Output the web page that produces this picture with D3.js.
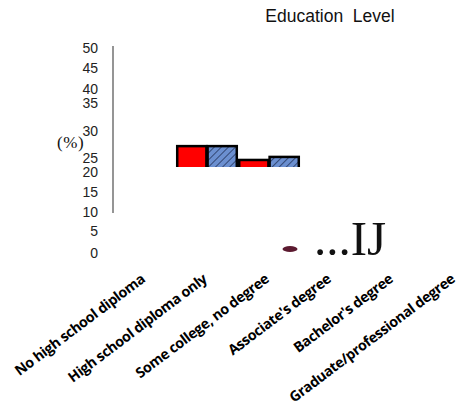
<!DOCTYPE html>
<html>
<head>
<meta charset="utf-8">
<script src="https://cdn.jsdelivr.net/npm/d3@7"></script>
<style>
  html, body { margin: 0; padding: 0; background: #fff; }
  svg { display: block; }
</style>
</head>
<body>
<svg id="chart" width="458" height="415"></svg>
<script>
// ---- data ----
const categories = [
  "No high school diploma",
  "High school diploma only",
  "Some college, no degree",
  "Associate's degree",
  "Bachelor's degree",
  "Graduate/professional degree"
];
const seriesRed  = [null, 27.2, 24.3, null, null, null];
const seriesBlue = [null, 27.2, 25.2, null, null, null];
const yTicks = [0, 5, 10, 15, 20, 25, 30, 35, 40, 45, 50];
const visibleFloor = 21.8;
const title = "Education\u00a0\u00a0Level";
const yLabel = "(%)";

// ---- drawing ----
const svg = d3.select("#chart");

const x = d3.scaleBand().domain(categories).range([114, 486]).padding(0);
// irregular (piecewise) value axis, as in the original
const y = d3.scaleLinear()
  .domain(yTicks)
  .range([253, 231, 212, 192, 172, 158, 131, 103, 89, 68, 48]);

const sub = d3.scaleBand().domain(["red", "blue"]).range([0, x.bandwidth()]).padding(0.04);

// hatch pattern
const defs = svg.append("defs");
const pat = defs.append("pattern")
  .attr("id", "hatch").attr("patternUnits", "userSpaceOnUse")
  .attr("width", 5).attr("height", 5)
  .attr("patternTransform", "rotate(45)");
pat.append("rect").attr("width", 5).attr("height", 5).attr("fill", "#6b8fd0");
pat.append("line").attr("x1", 0).attr("y1", 0).attr("x2", 0).attr("y2", 5)
  .attr("stroke", "#24365e").attr("stroke-width", 1.6);

// title
svg.append("text")
  .attr("x", 330).attr("y", 22)
  .attr("text-anchor", "middle")
  .attr("font-family", "Liberation Sans, Arial, sans-serif")
  .attr("font-size", 17.5)
  .attr("fill", "#111")
  .text(title);

// y tick labels
svg.append("g").selectAll("text").data(yTicks).join("text")
  .attr("x", 98).attr("y", d => y(d))
  .attr("dy", "0.35em")
  .attr("text-anchor", "end")
  .attr("font-family", "Liberation Sans, Arial, sans-serif")
  .attr("font-size", 14)
  .attr("fill", "#222")
  .text(d => d);

// axis line
svg.append("line")
  .attr("x1", 113).attr("x2", 113)
  .attr("y1", y(50) - 2).attr("y2", y(10) + 1)
  .attr("stroke", "#8a8a8a").attr("stroke-width", 1.8);

// y label
svg.append("text")
  .attr("x", 57).attr("y", 148)
  .attr("font-family", "Liberation Serif, Times New Roman, serif")
  .attr("font-size", 17)
  .attr("letter-spacing", 0.6)
  .attr("fill", "#111")
  .text(yLabel);

// bars
const clip = defs.append("clipPath").attr("id", "floorclip");
clip.append("rect").attr("x", 0).attr("y", 0).attr("width", 458).attr("height", y(visibleFloor));

const barData = [];
categories.forEach((c, i) => {
  if (seriesRed[i] != null) barData.push({cat: c, key: "red", v: seriesRed[i]});
  if (seriesBlue[i] != null) barData.push({cat: c, key: "blue", v: seriesBlue[i]});
});
svg.append("g").attr("clip-path", "url(#floorclip)")
  .selectAll("rect").data(barData).join("rect")
  .attr("x", d => x(d.cat) + sub(d.key))
  .attr("y", d => y(d.v))
  .attr("width", sub.bandwidth())
  .attr("height", d => y(visibleFloor) - y(d.v) + 4)
  .attr("fill", d => d.key === "red" ? "#ff0000" : "url(#hatch)")
  .attr("stroke", "#000")
  .attr("stroke-width", 2.5);

// x labels
svg.append("g").selectAll("text").data(categories).join("text")
  .attr("transform", d => `translate(${x(d) + x.bandwidth() / 2 + 1},281) rotate(-37)`)
  .attr("text-anchor", "end")
  .attr("font-family", "Open Sans, sans-serif")
  .attr("font-weight", 700)
  .attr("font-size", 14.3)
  .attr("letter-spacing", -0.4)
  .attr("fill", "#000")
  .text(d => d);

// stray marks
svg.append("ellipse")
  .attr("cx", 290).attr("cy", 249).attr("rx", 7.5).attr("ry", 3)
  .attr("fill", "#5c1a30");
svg.append("text")
  .attr("x", 314).attr("y", 255)
  .attr("font-family", "Liberation Serif, Times New Roman, serif")
  .attr("font-size", 49)
  .attr("fill", "#111")
  .text("...IJ");
</script>
</body>
</html>
